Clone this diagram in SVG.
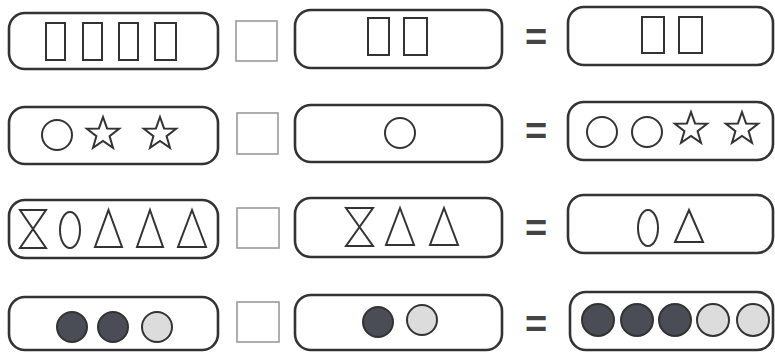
<svg xmlns="http://www.w3.org/2000/svg" width="775" height="352" viewBox="0 0 775 352">
<style>
.box{fill:none;stroke:#333;stroke-width:2.6}
.ans{fill:none;stroke:#9a9a9a;stroke-width:1.6}
.sh{fill:none;stroke:#333;stroke-width:2}
.dk{fill:#4a4d55;stroke:#333;stroke-width:2}
.lt{fill:#dcdcdc;stroke:#333;stroke-width:2}
.eq{font-family:"Liberation Sans",Arial,sans-serif;font-size:38px;font-weight:bold;fill:#444;text-anchor:middle}
</style>
<defs>
<path id="star" class="sh" d="M0,-17 L4.06,-5.59 L16.17,-5.25 L6.57,2.14 L9.99,13.75 L0,6.9 L-9.99,13.75 L-6.57,2.14 L-16.17,-5.25 L-4.06,-5.59 Z"/>
</defs>
<rect width="775" height="352" fill="#fff"/>

<g id="row1">
<g id="r1-left"><rect class="box" x="9" y="13" width="209" height="56" rx="16"/>
<rect class="sh" x="46" y="23" width="19" height="37"/>
<rect class="sh" x="83" y="23" width="19" height="37"/>
<rect class="sh" x="119" y="23" width="19" height="37"/>
<rect class="sh" x="155" y="23" width="21" height="37"/></g>
<rect id="r1-ans" class="ans" x="236" y="21" width="41" height="40"/>
<g id="r1-mid"><rect class="box" x="295" y="10" width="207" height="58" rx="16"/>
<rect class="sh" x="368" y="18" width="21" height="37"/>
<rect class="sh" x="404" y="18" width="23" height="37"/></g>
<text class="eq" x="536" y="50">=</text>
<g id="r1-right"><rect class="box" x="568" y="7" width="205" height="58" rx="16"/>
<rect class="sh" x="642" y="17" width="22" height="36"/>
<rect class="sh" x="679" y="17" width="23" height="36"/></g>
</g>

<g id="row2">
<g id="r2-left"><rect class="box" x="9" y="107" width="209" height="57" rx="16"/>
<circle class="sh" cx="57" cy="135" r="15"/>
<use href="#star" x="103" y="134"/>
<use href="#star" x="160" y="134"/></g>
<rect id="r2-ans" class="ans" x="237" y="113" width="41" height="41"/>
<g id="r2-mid"><rect class="box" x="295" y="105" width="207" height="57" rx="16"/>
<circle class="sh" cx="400" cy="133" r="15"/></g>
<text class="eq" x="536" y="144">=</text>
<g id="r2-right"><rect class="box" x="568" y="102" width="205" height="58" rx="16"/>
<circle class="sh" cx="602" cy="132" r="15"/>
<circle class="sh" cx="647" cy="132" r="15"/>
<use href="#star" x="691" y="129"/>
<use href="#star" x="742" y="129"/></g>
</g>

<g id="row3">
<g id="r3-left"><rect class="box" x="9" y="200" width="209" height="58" rx="16"/>
<path class="sh" d="M20,210 H46 L20,248 H46 Z"/>
<ellipse class="sh" cx="70" cy="230" rx="10" ry="18"/>
<path class="sh" d="M108.5,210 L122,247 H95 Z"/>
<path class="sh" d="M150,210 L163,247 H137 Z"/>
<path class="sh" d="M192,210 L206,247 H178 Z"/></g>
<rect id="r3-ans" class="ans" x="237" y="208" width="42" height="40"/>
<g id="r3-mid"><rect class="box" x="295" y="198" width="207" height="59" rx="16"/>
<path class="sh" d="M346,208 H373 L346,246 H373 Z"/>
<path class="sh" d="M400,208 L414,245 H386 Z"/>
<path class="sh" d="M444,208 L458,245 H430 Z"/></g>
<text class="eq" x="536" y="241">=</text>
<g id="r3-right"><rect class="box" x="568" y="195" width="205" height="58" rx="16"/>
<ellipse class="sh" cx="648" cy="228" rx="10" ry="18"/>
<path class="sh" d="M689,210 L703,242 H675 Z"/></g>
</g>

<g id="row4">
<g id="r4-left"><rect class="box" x="9" y="297" width="209" height="53" rx="16"/>
<circle class="dk" cx="72" cy="327" r="15"/>
<circle class="dk" cx="113" cy="327" r="15"/>
<circle class="lt" cx="157" cy="327" r="15"/></g>
<rect id="r4-ans" class="ans" x="237" y="302" width="42" height="40"/>
<g id="r4-mid"><rect class="box" x="295" y="295" width="207" height="55" rx="16"/>
<circle class="dk" cx="378" cy="322" r="15"/>
<circle class="lt" cx="422" cy="320" r="15"/></g>
<text class="eq" x="536" y="337">=</text>
<g id="r4-right"><rect class="box" x="570" y="292" width="203" height="58" rx="16"/>
<circle class="dk" cx="598" cy="320" r="16"/>
<circle class="dk" cx="637" cy="320" r="16"/>
<circle class="dk" cx="675" cy="320" r="16"/>
<circle class="lt" cx="713" cy="320" r="16"/>
<circle class="lt" cx="753" cy="320" r="16"/></g>
</g>
</svg>
